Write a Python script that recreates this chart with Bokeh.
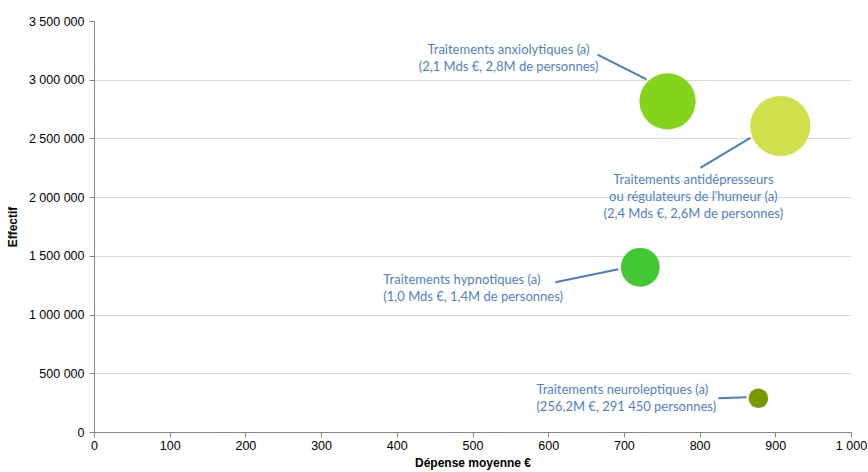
from bokeh.plotting import figure
from bokeh.models import Range1d, FixedTicker, Label
from bokeh.embed import file_html
from bokeh.resources import INLINE
import math

# ---- data ----
categories = ["Traitements anxiolytiques (a)",
              "Traitements antidépresseurs ou régulateurs de l'humeur (a)",
              "Traitements hypnotiques (a)",
              "Traitements neuroleptiques (a)"]
depense_moyenne = [757, 906, 721, 877]          # € per person
effectif = [2820000, 2610000, 1407000, 291450]  # persons
depense_totale = [2.1, 2.4, 1.0, 0.2562]        # Mds €
colors = ["#85D41C", "#CFE04A", "#41C832", "#789A00"]
label_lines = [
    ["Traitements anxiolytiques (a)", "(2,1 Mds €, 2,8M de personnes)"],
    ["Traitements antidépresseurs", "ou régulateurs de l'humeur (a)", "(2,4 Mds €, 2,6M de personnes)"],
    ["Traitements hypnotiques (a)", "(1,0 Mds €, 1,4M de personnes)"],
    ["Traitements neuroleptiques (a)", "(256,2M €, 291 450 personnes)"],
]
x_ticks = [0, 100, 200, 300, 400, 500, 600, 700, 800, 900, 1000]
y_ticks = [0, 500000, 1000000, 1500000, 2000000, 2500000, 3000000, 3500000]

def fmt(v):
    return f"{v:,}".replace(",", " ")

# ---- layout ----
FW, FH = 757, 413
XMAX, YMAX = 1000, 3500000
sx = XMAX / FW
sy = YMAX / FH

p = figure(width=868, height=472, output_backend="svg", toolbar_location=None,
           x_range=Range1d(0, XMAX), y_range=Range1d(0, YMAX),
           min_border_left=94, min_border_right=17, min_border_top=21, min_border_bottom=38)
p.outline_line_color = None
p.background_fill_color = "white"
p.xgrid.grid_line_color = None
p.ygrid.grid_line_color = "#D9D9D9"
p.ygrid.grid_line_width = 1

for ax in (p.xaxis[0], p.yaxis[0]):
    ax.axis_line_color = "#868686"
    ax.major_tick_line_color = "#868686"
    ax.major_tick_in = 0
    ax.major_tick_out = 5
    ax.minor_tick_line_color = None
    ax.major_label_text_font = "Arial, 'Liberation Sans', sans-serif"
    ax.major_label_text_font_size = "12.5px"
    ax.major_label_text_color = "#000000"
    ax.axis_label_text_font = "Arial, 'Liberation Sans', sans-serif"
    ax.axis_label_text_font_size = "12px"
    ax.axis_label_text_font_style = "bold"
    ax.axis_label_text_color = "#000000"

p.xaxis.ticker = FixedTicker(ticks=x_ticks)
p.yaxis.ticker = FixedTicker(ticks=y_ticks)
p.xaxis.major_label_overrides = {t: fmt(t) for t in x_ticks}
p.yaxis.major_label_overrides = {t: fmt(t) for t in y_ticks}
p.xaxis.axis_label = "Dépense moyenne €"
p.yaxis.axis_label = "Effectif"
p.xaxis.major_label_standoff = 1
p.xaxis.axis_label_standoff = 0
p.yaxis.major_label_standoff = 5
p.yaxis.axis_label_standoff = 6

# bubbles: area proportional to total spending
sizes = [2 * 19.4 * math.sqrt(d) for d in depense_totale]
p.scatter(x=depense_moyenne, y=effectif, size=sizes, color=colors, line_color=None)

# label placement (screen px offsets from bubble centre)
placement = [
    (-159, -52, "center", (-70, -47), (-21, -22)),
    (-87, 53, "center", (-80, 42), (-30, 12)),
    (-257, 12, "left", (-85, 15), (-22, 2)),
    (-222, -9, "left", (-40, 0), (-12, -1)),
]
LINE_H = 17
x0s, y0s, x1s, y1s = [], [], [], []
for i, (dx, dy, align, a, b) in enumerate(placement):
    for j, line in enumerate(label_lines[i]):
        p.add_layout(Label(x=depense_moyenne[i], y=effectif[i], x_offset=dx,
                           y_offset=-(dy + j * LINE_H), text=line,
                           text_align=align, text_baseline="middle",
                           text_font="Lato", text_font_size="13px",
                           text_color="#4F81C7"))
    x0s.append(depense_moyenne[i] + a[0] * sx)
    y0s.append(effectif[i] - a[1] * sy)
    x1s.append(depense_moyenne[i] + b[0] * sx)
    y1s.append(effectif[i] - b[1] * sy)

p.segment(x0=x0s, y0=y0s, x1=x1s, y1=y1s, line_color="#4A7EBB", line_width=2)

open("out.html", "w").write(file_html(p, INLINE))
